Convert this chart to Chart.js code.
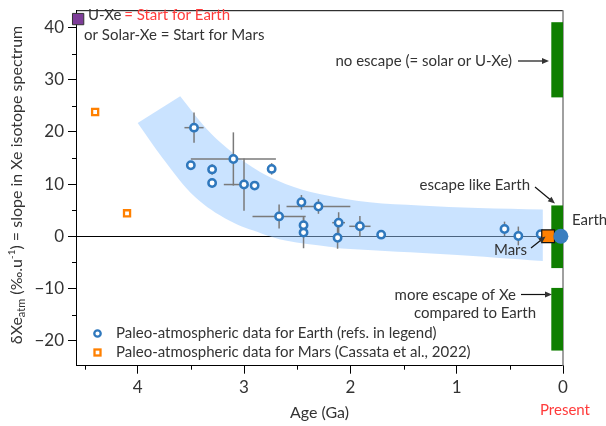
<!DOCTYPE html>
<html>
<head>
<meta charset="utf-8">
<style>
  html, body { margin: 0; padding: 0; background: #fff; }
  #wrap { width: 606px; height: 426px; }
</style>
<script src="https://cdn.jsdelivr.net/npm/chart.js@4.4.0/dist/chart.umd.min.js"></script>
</head>
<body>
<div id="wrap"><canvas id="chart" width="606" height="426"></canvas></div>
<script>
// Paleo-atmospheric Xe isotope slope (δXe_atm, ‰/u) versus age (Ga)
const earthAge           = [3.47, 3.50, 3.30, 3.30, 3.10, 3.00, 2.90, 2.74, 2.67, 2.46, 2.30, 2.44, 2.44, 2.12, 2.11, 1.91, 1.71, 0.55, 0.42, 0.21];
const earthDelta         = [20.8, 13.6, 12.8, 10.2, 14.8, 9.9, 9.7, 12.9, 3.8, 6.5, 5.7, 2.1, 0.7, -0.3, 2.6, 1.9, 0.3, 1.4, 0.05, 0.4];
const earthDeltaErr      = [2.9, 0, 1.0, 0, 5.1, 5.0, 0, 1.1, 2.3, 1.4, 1.4, 1.5, 3.0, 2.1, 2.0, 2.0, 0, 1.4, 1.8, 0];
const earthAgeErrOlder   = [0.09, 0, 0, 0, 0.40, 0.19, 0, 0, 0.25, 0, 0.30, 0, 0, 0, 0.06, 0.10, 0, 0, 0, 0];
const earthAgeErrYounger = [0.09, 0, 0, 0, 0.40, 0, 0, 0, 0.25, 0, 0.30, 0, 0, 0, 0.06, 0.10, 0, 0, 0, 0];

const marsAge   = [4.40, 4.10];
const marsDelta = [23.8, 4.4];

// starting composition and present-day values
const uxeAge = [4.56];          const uxeDelta = [41.6];
const earthNowAge = [0.02];     const earthNowDelta = [0];
const marsNowAge = [0.14];      const marsNowDelta = [0];

// envelope of the Earth evolution trend
const bandUpperAge   = [3.60, 3.38, 3.24, 2.92, 2.61, 2.29, 1.82, 1.35, 0.80, 0.19];
const bandUpperDelta = [26.8, 21.2, 18.3, 13.2, 10.0, 8.1, 6.5, 5.9, 5.4, 5.1];
const bandLowerAge   = [4.00, 3.77, 3.46, 3.14, 2.83, 2.61, 2.20, 2.04, 1.07, 0.19];
const bandLowerDelta = [21.7, 15.1, 7.5, 3.0, 0.5, -0.8, -2.0, -2.4, -3.5, -4.75];

// escape regimes marked at present day
const escapeHigh = [41.0, 5.9, -9.9];
const escapeLow  = [26.6, -6.1, -21.9];
const escapeAgeSpan = [0.11, 0.0];

const TEXT = '#333333';
const FONT = 'Lato, "Open Sans", sans-serif';

// closed outline: upper edge (old -> young), then lower edge back (young -> old);
// the young-end corners are repeated so the smoothed outline keeps a square end
const bandPoints = [];
bandUpperAge.forEach((a, i) => bandPoints.push({ x: a, y: bandUpperDelta[i] }));
bandPoints.push({ x: bandUpperAge[bandUpperAge.length - 1], y: bandUpperDelta[bandUpperDelta.length - 1] });
bandPoints.push({ x: bandLowerAge[bandLowerAge.length - 1], y: bandLowerDelta[bandLowerDelta.length - 1] });
for (let i = bandLowerAge.length - 1; i >= 0; i--) bandPoints.push({ x: bandLowerAge[i], y: bandLowerDelta[i] });

const pts = (xs, ys) => xs.map((x, i) => ({ x, y: ys[i] }));

const EARTH_INDEX = 3;

function arrow(ctx, x1, y1, x2, y2) {
  const ang = Math.atan2(y2 - y1, x2 - x1);
  const len = 7, hw = 3;
  ctx.beginPath();
  ctx.moveTo(x1, y1);
  ctx.lineTo(x2 - Math.cos(ang) * len * 0.8, y2 - Math.sin(ang) * len * 0.8);
  ctx.stroke();
  ctx.beginPath();
  ctx.moveTo(x2, y2);
  ctx.lineTo(x2 - Math.cos(ang) * len + Math.sin(ang) * hw, y2 - Math.sin(ang) * len - Math.cos(ang) * hw);
  ctx.lineTo(x2 - Math.cos(ang) * len - Math.sin(ang) * hw, y2 - Math.sin(ang) * len + Math.cos(ang) * hw);
  ctx.closePath();
  ctx.fill();
}

const backdrop = {
  id: 'backdrop',
  beforeDatasetsDraw(chart) {
    const { ctx, chartArea: ca, scales: { x, y } } = chart;
    ctx.save();
    // zero line
    const y0 = Math.round(y.getPixelForValue(0)) + 0.5;
    ctx.strokeStyle = '#000'; ctx.lineWidth = 1;
    ctx.beginPath(); ctx.moveTo(ca.left, y0); ctx.lineTo(ca.right, y0); ctx.stroke();
    // frame: top and right sides
    ctx.beginPath(); ctx.moveTo(ca.left, ca.top + 0.5); ctx.lineTo(ca.right, ca.top + 0.5); ctx.stroke();
    ctx.strokeStyle = '#808080'; ctx.lineWidth = 1.5;
    ctx.beginPath(); ctx.moveTo(ca.right, ca.top); ctx.lineTo(ca.right, ca.bottom); ctx.stroke();
    // minor ticks
    ctx.strokeStyle = '#000'; ctx.lineWidth = 1;
    for (let v = 0.5; v < x.max; v += 1) {
      const px = Math.round(x.getPixelForValue(v)) + 0.5;
      ctx.beginPath(); ctx.moveTo(px, ca.bottom); ctx.lineTo(px, ca.bottom + 4); ctx.stroke();
    }
    for (let v = Math.ceil(y.min / 5) * 5; v < y.max; v += 5) {
      if (v % 10 === 0) continue;
      const py = Math.round(y.getPixelForValue(v)) + 0.5;
      ctx.beginPath(); ctx.moveTo(ca.left - 4, py); ctx.lineTo(ca.left, py); ctx.stroke();
    }
    // escape regime bars
    ctx.fillStyle = '#0f7f00';
    const gx1 = x.getPixelForValue(escapeAgeSpan[0]);
    const gx2 = x.getPixelForValue(escapeAgeSpan[1]);
    escapeHigh.forEach((h, i) => {
      const yt = y.getPixelForValue(h), yb = y.getPixelForValue(escapeLow[i]);
      ctx.fillRect(gx1, yt, gx2 - gx1, yb - yt);
    });
    ctx.restore();
  },
  beforeDatasetDraw(chart, args) {
    if (args.index !== EARTH_INDEX) return;
    const { ctx, scales: { x, y } } = chart;
    ctx.save();
    ctx.strokeStyle = '#7a7a7a'; ctx.lineWidth = 1.5;
    earthAge.forEach((a, i) => {
      const px = x.getPixelForValue(a), py = y.getPixelForValue(earthDelta[i]);
      const e = earthDeltaErr[i];
      if (e) {
        ctx.beginPath();
        ctx.moveTo(px, y.getPixelForValue(earthDelta[i] + e));
        ctx.lineTo(px, y.getPixelForValue(earthDelta[i] - e));
        ctx.stroke();
      }
      if (earthAgeErrOlder[i] || earthAgeErrYounger[i]) {
        ctx.beginPath();
        ctx.moveTo(x.getPixelForValue(a + earthAgeErrOlder[i]), py);
        ctx.lineTo(x.getPixelForValue(a - earthAgeErrYounger[i]), py);
        ctx.stroke();
      }
    });
    ctx.restore();
  },
  afterDraw(chart) {
    const { ctx, chartArea: ca } = chart;
    ctx.save();
    ctx.fillStyle = TEXT; ctx.strokeStyle = '#111';
    ctx.textBaseline = 'middle';
    ctx.lineWidth = 1.2;

    // y axis title with sub/superscripts
    const parts = [
      { t: 'δXe', s: 16, dy: 0 },
      { t: 'atm', s: 11, dy: 4 },
      { t: ' (‰.u', s: 16, dy: 0 },
      { t: '-1', s: 10, dy: -5 },
      { t: ') = slope in Xe isotope spectrum', s: 16, dy: 0 }
    ];
    let total = 0;
    parts.forEach(p => { ctx.font = p.s + 'px ' + FONT; p.w = ctx.measureText(p.t).width; total += p.w; });
    ctx.save();
    ctx.translate(17, (ca.top + ca.bottom) / 2 - 3);
    ctx.rotate(-Math.PI / 2);
    ctx.textAlign = 'left';
    let cx = -total / 2;
    parts.forEach(p => { ctx.font = p.s + 'px ' + FONT; ctx.fillText(p.t, cx, p.dy); cx += p.w; });
    ctx.restore();

    // x axis title and present-day marker
    ctx.font = '16px ' + FONT;
    ctx.textAlign = 'center';
    ctx.fillText('Age (Ga)', (ca.left + ca.right) / 2, 413);
    ctx.font = '15px ' + FONT;
    ctx.fillStyle = '#ff3b3b';
    ctx.fillText('Present', ca.right + 2, 410);

    // starting composition note
    ctx.textAlign = 'left';
    ctx.font = '15px ' + FONT;
    ctx.fillStyle = TEXT;
    ctx.fillText('U-Xe', 88, 15);
    const w1 = ctx.measureText('U-Xe ').width;
    ctx.fillStyle = '#ff3b3b';
    ctx.fillText('= Start for Earth', 88 + w1 - 1, 15);
    ctx.fillStyle = TEXT;
    ctx.fillText('or Solar-Xe = Start for Mars', 84, 35);

    // escape regime annotations
    ctx.textAlign = 'right';
    ctx.fillText('no escape (= solar or U-Xe)', 512, 61);
    arrow(ctx, 518, 61, 549, 61);
    ctx.fillText('escape like Earth', 530, 185);
    arrow(ctx, 535, 187, 555, 203.5);
    ctx.fillText('Mars', 527, 250);
    arrow(ctx, 531, 248, 545.5, 236.5);
    ctx.fillText('more escape of Xe', 516, 295);
    arrow(ctx, 521, 294.5, 552, 294.5);
    ctx.fillText('compared to Earth', 536, 313);
    ctx.textAlign = 'left';
    ctx.fillText('Earth', 572, 220);

    // legend
    ctx.fillText('Paleo-atmospheric data for Earth (refs. in legend)', 116, 333);
    ctx.fillText('Paleo-atmospheric data for Mars (Cassata et al., 2022)', 116, 352);
    ctx.lineWidth = 2.3;
    ctx.strokeStyle = '#2f78bd'; ctx.fillStyle = '#fff';
    ctx.beginPath(); ctx.arc(97.5, 333.5, 3.2, 0, Math.PI * 2); ctx.fill(); ctx.stroke();
    ctx.strokeStyle = '#ff8000';
    ctx.fillRect(94.5, 349.5, 6, 6); ctx.strokeRect(94.5, 349.5, 6, 6);
    ctx.restore();
  }
};

new Chart(document.getElementById('chart'), {
  type: 'scatter',
  data: {
    datasets: [
      { label: 'Earth', data: pts(earthNowAge, earthNowDelta), pointStyle: 'circle', pointRadius: 7.5,
        backgroundColor: '#3a7ebf', borderColor: '#3a7ebf', borderWidth: 0, clip: false },
      { label: 'Mars', data: pts(marsNowAge, marsNowDelta), pointStyle: 'rect', pointRadius: 9,
        backgroundColor: '#ff8000', borderColor: '#111', borderWidth: 1.2, clip: false },
      { label: 'U-Xe', data: pts(uxeAge, uxeDelta), pointStyle: 'rect', pointRadius: 8,
        backgroundColor: '#7d3c98', borderColor: '#333', borderWidth: 1, clip: false },
      { label: 'Paleo-atmospheric data for Earth', data: pts(earthAge, earthDelta), pointStyle: 'circle',
        pointRadius: 3.7, borderWidth: 2.5, borderColor: '#2f78bd', backgroundColor: '#fff' },
      { label: 'Paleo-atmospheric data for Mars', data: pts(marsAge, marsDelta), pointStyle: 'rect',
        pointRadius: 4.3, borderWidth: 2.3, borderColor: '#ff8000', backgroundColor: '#fff' },
      { label: 'trend', data: bandPoints, showLine: true, fill: 'shape', tension: 0.35,
        pointRadius: 0, borderWidth: 0, borderColor: 'rgba(0,0,0,0)',
        backgroundColor: 'rgba(150,200,255,0.5)' }
    ]
  },
  options: {
    responsive: false,
    animation: false,
    devicePixelRatio: 1,
    layout: { padding: { top: 5, right: 43, bottom: 0, left: 0 } },
    plugins: { legend: { display: false }, tooltip: { enabled: false } },
    scales: {
      x: {
        type: 'linear', reverse: true, min: 0, max: 4.58,
        afterFit(s) { s.height = 60.3; s.paddingLeft = 0; s.paddingRight = 0; },
        border: { color: '#000', width: 1 },
        grid: { drawOnChartArea: false, tickLength: 8, color: '#000' },
        ticks: { stepSize: 1, includeBounds: false, color: TEXT, padding: 4, maxRotation: 0,
                 font: { family: FONT, size: 17 } }
      },
      y: {
        type: 'linear', min: -24.8, max: 43.3,
        afterFit(s) { s.width = 76; s.paddingTop = 0; s.paddingBottom = 0; },
        border: { color: '#000', width: 1 },
        grid: { drawOnChartArea: false, tickLength: 8, color: '#000' },
        ticks: { stepSize: 10, includeBounds: false, color: TEXT, padding: 4,
                 font: { family: FONT, size: 17 },
                 callback: v => (v < 0 ? '\u2212' + Math.abs(v) : String(v)) }
      }
    }
  },
  plugins: [backdrop]
});
</script>
</body>
</html>
